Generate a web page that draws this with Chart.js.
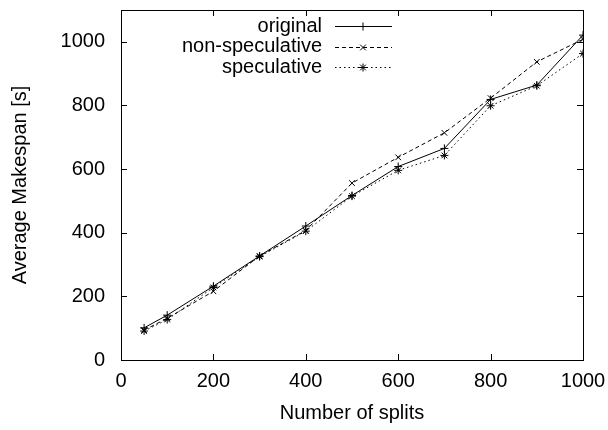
<!DOCTYPE html>
<html>
<head>
<meta charset="utf-8">
<script src="https://cdn.jsdelivr.net/npm/chart.js@4/dist/chart.umd.min.js"></script>
<style>
  html, body { margin: 0; padding: 0; background: #fff; }
  #wrap { width: 608px; height: 430px; }
</style>
</head>
<body>
<div id="wrap"><canvas id="makespanChart" width="608" height="430"></canvas></div>
<script>
// splits on the x axis
const splits = [50, 100, 200, 300, 400, 500, 600, 700, 800, 900, 1000];
// average makespan in seconds
const original = [101, 141, 232, 327, 421, 517, 608, 665, 819, 864, 1021];
const nonSpeculative = [94, 131, 216, 327, 407, 556, 637, 714, 823, 937, 1008];
const speculative = [91, 127, 228, 325, 405, 515, 596, 643, 799, 862, 963];

const xTicks = [0, 200, 400, 600, 800, 1000];
const yTicks = [0, 200, 400, 600, 800, 1000];

const FONT = 'Liberation Sans, Arial, Helvetica, sans-serif';
const FONT_SIZE = 20;

function toPoints(values) {
  return splits.map((s, i) => ({ x: s, y: values[i] }));
}

// frame, mirrored inward ticks and the key in the top right corner
const gnuplotLook = {
  id: 'gnuplotLook',
  afterDatasetsDraw(chart) {
    const ctx = chart.ctx;
    const a = chart.chartArea;
    const xs = chart.scales.x;
    const ys = chart.scales.y;
    ctx.save();
    ctx.strokeStyle = '#000';
    ctx.lineWidth = 1;
    ctx.setLineDash([]);
    ctx.strokeRect(a.left + 0.5, a.top + 0.5, a.right - a.left, a.bottom - a.top);

    ctx.beginPath();
    xTicks.forEach(v => {
      const px = Math.round(xs.getPixelForValue(v)) + 0.5;
      ctx.moveTo(px, a.bottom); ctx.lineTo(px, a.bottom - 6);
      ctx.moveTo(px, a.top); ctx.lineTo(px, a.top + 6);
    });
    yTicks.forEach(v => {
      const py = Math.round(ys.getPixelForValue(v)) + 0.5;
      ctx.moveTo(a.left, py); ctx.lineTo(a.left + 6, py);
      ctx.moveTo(a.right, py); ctx.lineTo(a.right - 6, py);
    });
    ctx.stroke();

    // key
    ctx.font = FONT_SIZE + 'px ' + FONT;
    ctx.fillStyle = '#000';
    ctx.textAlign = 'right';
    ctx.textBaseline = 'middle';
    chart.data.datasets.forEach((ds, i) => {
      const y = 26 + i * 20.5;
      ctx.fillText(ds.label, 322, y);
      ctx.beginPath();
      ctx.setLineDash(ds.borderDash || []);
      ctx.moveTo(335, Math.round(y) + 0.5);
      ctx.lineTo(392, Math.round(y) + 0.5);
      ctx.stroke();
      ctx.setLineDash([]);
      Chart.helpers.drawPoint(ctx, {
        pointStyle: ds.pointStyle,
        radius: ds.pointRadius,
        rotation: 0,
        borderWidth: 1
      }, 363, Math.round(y) + 0.5);
    });
    ctx.restore();
  }
};

const tickFont = { family: FONT, size: FONT_SIZE };

const ctx = document.getElementById('makespanChart').getContext('2d');
new Chart(ctx, {
  type: 'line',
  data: {
    datasets: [
      {
        label: 'original',
        data: toPoints(original),
        borderColor: '#000',
        borderWidth: 1,
        pointStyle: 'cross',
        pointRadius: 4,
        pointBorderColor: '#000',
        pointBorderWidth: 1,
        tension: 0
      },
      {
        label: 'non-speculative',
        data: toPoints(nonSpeculative),
        borderColor: '#000',
        borderWidth: 1,
        borderDash: [4, 3],
        pointStyle: 'crossRot',
        pointRadius: 4,
        pointBorderColor: '#000',
        pointBorderWidth: 1,
        tension: 0
      },
      {
        label: 'speculative',
        data: toPoints(speculative),
        borderColor: '#000',
        borderWidth: 1,
        borderDash: [1.5, 3],
        pointStyle: 'star',
        pointRadius: 4,
        pointBorderColor: '#000',
        pointBorderWidth: 1,
        tension: 0
      }
    ]
  },
  options: {
    responsive: false,
    animation: false,
    layout: { padding: { top: 10, right: 25, left: 0, bottom: 0 } },
    scales: {
      x: {
        type: 'linear',
        min: 0,
        max: 1000,
        afterBuildTicks: s => { s.ticks = xTicks.map(v => ({ value: v })); },
        afterFit: s => { s.height = 70; s.paddingLeft = 0; s.paddingRight = 0; },
        grid: { display: false, drawTicks: false },
        border: { display: false },
        ticks: { padding: 9, color: '#000', font: tickFont, callback: v => String(v) },
        title: {
          display: true,
          text: 'Number of splits',
          color: '#000',
          font: tickFont,
          padding: { top: 0, bottom: 5 }
        }
      },
      y: {
        type: 'linear',
        min: 0,
        max: 1100,
        afterBuildTicks: s => { s.ticks = yTicks.map(v => ({ value: v })); },
        afterFit: s => { s.width = 121; s.paddingTop = 0; s.paddingBottom = 0; },
        grid: { display: false, drawTicks: false },
        border: { display: false },
        ticks: { padding: 16, color: '#000', font: tickFont, callback: v => String(v) },
        title: {
          display: true,
          text: 'Average Makespan [s]',
          color: '#000',
          font: tickFont,
          padding: { top: 8, bottom: 0 }
        }
      }
    },
    plugins: {
      legend: { display: false },
      tooltip: { enabled: false }
    }
  },
  plugins: [gnuplotLook]
});
</script>
</body>
</html>
